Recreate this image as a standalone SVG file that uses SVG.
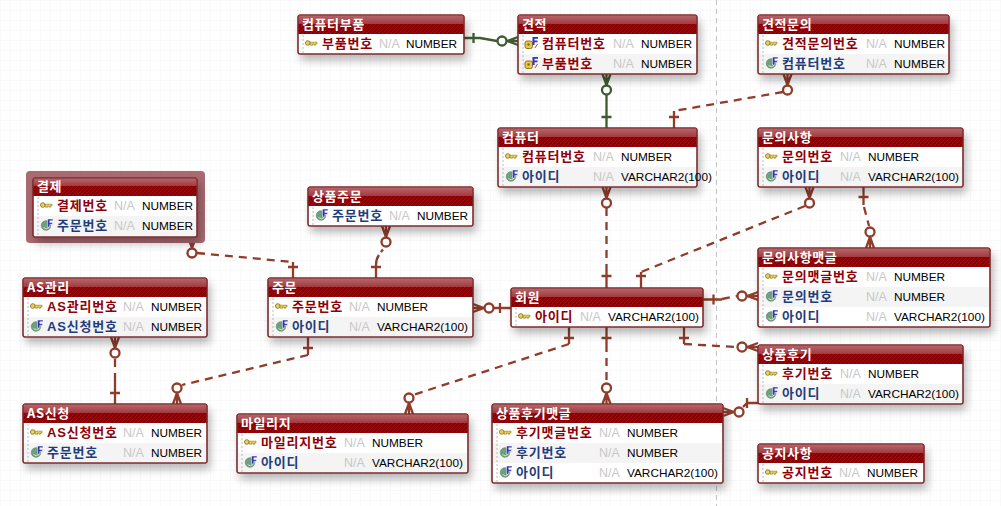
<svg xmlns="http://www.w3.org/2000/svg" width="1001" height="506" viewBox="0 0 1001 506">
<style>
.b{fill:#fff;stroke:#7d2a2c;stroke-width:1}
.h{fill:url(#hatch)}
.g{fill:url(#gloss)}
.a{fill:#f4f4f4}
.d{stroke:#bbb;stroke-width:1;stroke-dasharray:2 2;fill:none}
.o{fill:none;stroke:#7d2a2c;stroke-width:1.2}
text{font-family:"Liberation Sans","Noto Sans CJK KR",sans-serif;font-size:11.8px}
.t{font-family:"Noto Sans CJK KR",sans-serif;font-size:13px;font-weight:700;fill:#fff;letter-spacing:.6px}
.p,.f{font-family:"Liberation Sans","Noto Sans CJK KR",sans-serif;font-size:13px;font-weight:700;letter-spacing:.8px}
.p{fill:#8f0008}
.f{fill:#1f3d7c}
.n{fill:#c8c8c8;font-size:12.5px}
.y{fill:#000}
.r{fill:none;stroke:#8f3c2b;stroke-width:2.3}
.z{stroke-dasharray:8 6}
.v{fill:none;stroke:#3f5a30;stroke-width:2.3}
</style>
<defs>
<pattern id="grid" width="10" height="10" patternUnits="userSpaceOnUse"><path d="M10 0H0V10" fill="none" stroke="#f4f4f4" stroke-width="1"/></pattern>
<pattern id="hatch" width="4" height="4" patternUnits="userSpaceOnUse"><rect width="4" height="4" fill="#8c0004"/><path d="M0 4L4 0" stroke="#980f12" stroke-width="1"/></pattern>
<linearGradient id="gloss" x1="0" y1="0" x2="0" y2="1"><stop offset="0" stop-color="#b7686c"/><stop offset="1" stop-color="#a23a40"/></linearGradient>
<filter id="sh" x="-10%" y="-20%" width="125%" height="160%"><feDropShadow dx="3" dy="6" stdDeviation="4.500" flood-color="#000" flood-opacity=".28"/></filter>
<g id="k"><circle cx="2.800" cy="3" r="2.300" fill="#ecd25a" stroke="#8f7420" stroke-width=".9"/><path d="M5 2.200H12V4H10.500V5.200H9V4H7.500V5.200H5.500Z" fill="#ecd25a" stroke="#8f7420" stroke-width=".6"/></g>
<g id="fk"><circle cx="5" cy="7.500" r="4.800" fill="#6f9f7c" stroke="#5b8a68" stroke-width=".6"/><path d="M2.500 9.500A4 4 0 0 0 8 9.500" fill="none" stroke="#cfe3d4" stroke-width="1"/><path d="M6.500 1H12V2.800H8.800V4.500H11.500V6.300H8.800V9H6.500Z" fill="#3535b5" stroke="#fff" stroke-width=".5"/></g>
<g id="pf"><rect x="0" y="4" width="7.500" height="7.500" rx="2" fill="#e8c84a" stroke="#8a6a1a" stroke-width=".9"/><circle cx="3.500" cy="7.500" r="1.200" fill="#8a6a1a"/><path d="M7.500 0H13V1.800H9.500V3.500H12.500V5.300H9.500V8H7.500Z" fill="#3535b5"/><path d="M12.500 7L10 11" stroke="#8a6a1a"/></g>
<g id="mr"><path d="M0-4L11 0M0 0H11M0 4L11 0" fill="none" stroke="#8f3c2b" stroke-width="2.300"/><circle cx="16" r="4.500" fill="#fff" stroke="#8f3c2b" stroke-width="2.300"/></g>
<g id="mv"><path d="M0-4L11 0M0 0H11M0 4L11 0" fill="none" stroke="#3f5a30" stroke-width="2.300"/><circle cx="16" r="4.500" fill="#fff" stroke="#3f5a30" stroke-width="2.300"/></g>
</defs>
<rect width="1001" height="506" fill="#fff"/>
<rect width="1001" height="506" fill="url(#grid)"/>
<path d="M716.500 0V506" stroke="#c4c4c4" stroke-width="1" stroke-dasharray="5 4" fill="none"/>

<g id="connectors">
<g class="v">
<path d="M464 38H480L497 41M473.500 33V43M606.500 95V128M601.500 117H611.500"/>
<use href="#mv" transform="translate(518 41) rotate(180)"/>
<use href="#mv" transform="translate(606.500 74) rotate(90)"/>
</g>
<g class="r">
<path class="z" d="M783 92L674 111"/>
<path d="M674 111V128M669 117H679"/>
<use href="#mr" transform="translate(787.500 74) rotate(90)"/>

<path class="z" d="M606.500 208V268"/>
<path d="M606.500 268V288M601.500 276H611.500"/>
<use href="#mr" transform="translate(606.500 187) rotate(90)"/>

<path class="z" d="M805 206L641 272"/>
<path d="M641 272V288M636 276H646"/>
<use href="#mr" transform="translate(809.500 187) rotate(90)"/>

<path d="M863.500 187V205M858.500 197H868.500"/>
<path class="z" d="M864 207L869 226"/>
<use href="#mr" transform="translate(870 248) rotate(-90)"/>

<path d="M703 299.500H722M713.500 294.500V304.500"/>
<path class="z" d="M722 299L737 296"/>
<use href="#mr" transform="translate(758 296) rotate(180)"/>

<path d="M684 327V344M679 338H689"/>
<path class="z" d="M684 344L736 347"/>
<use href="#mr" transform="translate(758 347) rotate(180)"/>

<path d="M606.500 327V344M601.500 338H611.500"/>
<path class="z" d="M606.500 344V382"/>
<use href="#mr" transform="translate(606.500 404) rotate(-90)"/>

<path d="M569 327V344M564 338H574"/>
<path class="z" d="M569 344L413 395"/>
<use href="#mr" transform="translate(409 414) rotate(-90)"/>

<path d="M758 403H747L743 407M747 398V408"/>
<use href="#mr" transform="translate(723 412)"/>

<path d="M511 308H493M500 303V313"/>
<use href="#mr" transform="translate(473 308)"/>

<path d="M383 249.500L381 252M379 255Q376 259 376 265V278M371 267H381"/>
<use href="#mr" transform="translate(386 226) rotate(90)"/>

<path class="z" d="M197 253L293 262"/>
<path d="M293 262V278M288 267H298"/>
<use href="#mr" transform="translate(192 237) rotate(90)"/>

<path class="z" d="M115 359V380"/>
<path d="M115 380V404M110 393H120"/>
<use href="#mr" transform="translate(115 337) rotate(90)"/>

<path d="M308 337V355M303 348H313"/>
<path class="z" d="M308 355L182 385"/>
<use href="#mr" transform="translate(177 404) rotate(-90)"/>
</g>
</g>

<g id="t-part"><rect class="b" x="298" y="15" width="166" height="39" rx="2" filter="url(#sh)"/><rect class="h" x="298" y="15" width="166" height="19"/><rect class="g" x="298" y="15" width="166" height="9"/><rect class="o" x="298" y="15" width="166" height="39" rx="2"/><path class="d" d="M303 35V53"/><text class="t" x="302" y="29">컴퓨터부품</text><use href="#k" x="305" y="40"/><text class="p" x="322" y="48">부품번호</text><text class="n" x="379" y="48">N/A</text><text class="y" x="406" y="48">NUMBER</text></g>

<g id="t-quote"><rect class="b" x="518" y="15" width="179" height="59" rx="2" filter="url(#sh)"/><rect class="h" x="518" y="15" width="179" height="19"/><rect class="g" x="518" y="15" width="179" height="9"/><rect class="a" x="519" y="54" width="177" height="19"/><rect class="o" x="518" y="15" width="179" height="59" rx="2"/><path class="d" d="M523 35V73"/><text class="t" x="522" y="29">견적</text><use href="#pf" x="525" y="37"/><text class="p" x="542" y="48">컴퓨터번호</text><text class="n" x="613" y="48">N/A</text><text class="y" x="641" y="48">NUMBER</text><use href="#pf" x="525" y="57"/><text class="p" x="542" y="68">부품번호</text><text class="n" x="613" y="68">N/A</text><text class="y" x="641" y="68">NUMBER</text></g>

<g id="t-quoteq"><rect class="b" x="758" y="15" width="191" height="59" rx="2" filter="url(#sh)"/><rect class="h" x="758" y="15" width="191" height="19"/><rect class="g" x="758" y="15" width="191" height="9"/><rect class="a" x="759" y="54" width="189" height="19"/><rect class="o" x="758" y="15" width="191" height="59" rx="2"/><path class="d" d="M763 35V73"/><text class="t" x="762" y="29">견적문의</text><use href="#k" x="765" y="40"/><text class="p" x="782" y="48">견적문의번호</text><text class="n" x="866" y="48">N/A</text><text class="y" x="894" y="48">NUMBER</text><use href="#fk" x="766" y="56"/><text class="f" x="782" y="68">컴퓨터번호</text><text class="n" x="866" y="68">N/A</text><text class="y" x="894" y="68">NUMBER</text></g>

<g id="t-computer"><rect class="b" x="498" y="128" width="199" height="59" rx="2" filter="url(#sh)"/><rect class="h" x="498" y="128" width="199" height="19"/><rect class="g" x="498" y="128" width="199" height="9"/><rect class="a" x="499" y="167" width="197" height="19"/><rect class="o" x="498" y="128" width="199" height="59" rx="2"/><path class="d" d="M503 148V186"/><text class="t" x="502" y="142">컴퓨터</text><use href="#k" x="505" y="153"/><text class="p" x="522" y="161">컴퓨터번호</text><text class="n" x="593" y="161">N/A</text><text class="y" x="621" y="161">NUMBER</text><use href="#fk" x="506" y="169"/><text class="f" x="522" y="181">아이디</text><text class="n" x="593" y="181">N/A</text><text class="y" x="621" y="181">VARCHAR2(100)</text></g>

<g id="t-inquiry"><rect class="b" x="758" y="128" width="205" height="59" rx="2" filter="url(#sh)"/><rect class="h" x="758" y="128" width="205" height="19"/><rect class="g" x="758" y="128" width="205" height="9"/><rect class="a" x="759" y="167" width="203" height="19"/><rect class="o" x="758" y="128" width="205" height="59" rx="2"/><path class="d" d="M763 148V186"/><text class="t" x="762" y="142">문의사항</text><use href="#k" x="765" y="153"/><text class="p" x="782" y="161">문의번호</text><text class="n" x="840" y="161">N/A</text><text class="y" x="868" y="161">NUMBER</text><use href="#fk" x="766" y="169"/><text class="f" x="782" y="181">아이디</text><text class="n" x="840" y="181">N/A</text><text class="y" x="868" y="181">VARCHAR2(100)</text></g>

<g id="t-pay"><rect x="26" y="171" width="179" height="72" rx="4" fill="#a96a70"/><rect class="b" x="33" y="178" width="164" height="59" rx="2" filter="url(#sh)"/><rect class="h" x="33" y="178" width="164" height="18"/><rect class="g" x="33" y="178" width="164" height="8"/><rect class="a" x="34" y="216" width="162" height="20"/><rect class="o" x="33" y="178" width="164" height="59" rx="2"/><path class="d" d="M38 197V236"/><text class="t" x="37" y="191">결제</text><use href="#k" x="40" y="202"/><text class="p" x="57" y="210">결제번호</text><text class="n" x="114" y="210">N/A</text><text class="y" x="142" y="210">NUMBER</text><use href="#fk" x="41" y="218"/><text class="f" x="57" y="230">주문번호</text><text class="n" x="114" y="230">N/A</text><text class="y" x="142" y="230">NUMBER</text></g>

<g id="t-prodorder"><rect class="b" x="308" y="187" width="165" height="39" rx="2" filter="url(#sh)"/><rect class="h" x="308" y="187" width="165" height="19"/><rect class="g" x="308" y="187" width="165" height="9"/><rect class="o" x="308" y="187" width="165" height="39" rx="2"/><path class="d" d="M313 207V225"/><text class="t" x="312" y="201">상품주문</text><use href="#fk" x="316" y="208"/><text class="f" x="332" y="220">주문번호</text><text class="n" x="389" y="220">N/A</text><text class="y" x="417" y="220">NUMBER</text></g>

<g id="t-asm"><rect class="b" x="23" y="278" width="184" height="59" rx="2" filter="url(#sh)"/><rect class="h" x="23" y="278" width="184" height="19"/><rect class="g" x="23" y="278" width="184" height="9"/><rect class="a" x="24" y="317" width="182" height="19"/><rect class="o" x="23" y="278" width="184" height="59" rx="2"/><path class="d" d="M28 298V336"/><text class="t" x="27" y="292">AS관리</text><use href="#k" x="30" y="303"/><text class="p" x="47" y="311">AS관리번호</text><text class="n" x="123" y="311">N/A</text><text class="y" x="151" y="311">NUMBER</text><use href="#fk" x="31" y="319"/><text class="f" x="47" y="331">AS신청번호</text><text class="n" x="123" y="331">N/A</text><text class="y" x="151" y="331">NUMBER</text></g>

<g id="t-order"><rect class="b" x="268" y="278" width="205" height="59" rx="2" filter="url(#sh)"/><rect class="h" x="268" y="278" width="205" height="19"/><rect class="g" x="268" y="278" width="205" height="9"/><rect class="a" x="269" y="317" width="203" height="19"/><rect class="o" x="268" y="278" width="205" height="59" rx="2"/><path class="d" d="M273 298V336"/><text class="t" x="272" y="292">주문</text><use href="#k" x="275" y="303"/><text class="p" x="292" y="311">주문번호</text><text class="n" x="349" y="311">N/A</text><text class="y" x="377" y="311">NUMBER</text><use href="#fk" x="276" y="319"/><text class="f" x="292" y="331">아이디</text><text class="n" x="349" y="331">N/A</text><text class="y" x="377" y="331">VARCHAR2(100)</text></g>

<g id="t-member"><rect class="b" x="511" y="288" width="192" height="39" rx="2" filter="url(#sh)"/><rect class="h" x="511" y="288" width="192" height="19"/><rect class="g" x="511" y="288" width="192" height="9"/><rect class="o" x="511" y="288" width="192" height="39" rx="2"/><path class="d" d="M516 308V326"/><text class="t" x="515" y="302">회원</text><use href="#k" x="518" y="313"/><text class="p" x="535" y="321">아이디</text><text class="n" x="580" y="321">N/A</text><text class="y" x="608" y="321">VARCHAR2(100)</text></g>

<g id="t-inqreply"><rect class="b" x="758" y="248" width="232" height="79" rx="2" filter="url(#sh)"/><rect class="h" x="758" y="248" width="232" height="19"/><rect class="g" x="758" y="248" width="232" height="9"/><rect class="a" x="759" y="287" width="230" height="20"/><rect class="o" x="758" y="248" width="232" height="79" rx="2"/><path class="d" d="M763 268V326"/><text class="t" x="762" y="262">문의사항맷글</text><use href="#k" x="765" y="273"/><text class="p" x="782" y="281">문의맷글번호</text><text class="n" x="866" y="281">N/A</text><text class="y" x="894" y="281">NUMBER</text><use href="#fk" x="766" y="289"/><text class="f" x="782" y="301">문의번호</text><text class="n" x="866" y="301">N/A</text><text class="y" x="894" y="301">NUMBER</text><use href="#fk" x="766" y="309"/><text class="f" x="782" y="321">아이디</text><text class="n" x="866" y="321">N/A</text><text class="y" x="894" y="321">VARCHAR2(100)</text></g>

<g id="t-review"><rect class="b" x="758" y="345" width="205" height="59" rx="2" filter="url(#sh)"/><rect class="h" x="758" y="345" width="205" height="19"/><rect class="g" x="758" y="345" width="205" height="9"/><rect class="a" x="759" y="384" width="203" height="19"/><rect class="o" x="758" y="345" width="205" height="59" rx="2"/><path class="d" d="M763 365V403"/><text class="t" x="762" y="359">상품후기</text><use href="#k" x="765" y="370"/><text class="p" x="782" y="378">후기번호</text><text class="n" x="840" y="378">N/A</text><text class="y" x="868" y="378">NUMBER</text><use href="#fk" x="766" y="386"/><text class="f" x="782" y="398">아이디</text><text class="n" x="840" y="398">N/A</text><text class="y" x="868" y="398">VARCHAR2(100)</text></g>

<g id="t-asreq"><rect class="b" x="23" y="404" width="184" height="59" rx="2" filter="url(#sh)"/><rect class="h" x="23" y="404" width="184" height="19"/><rect class="g" x="23" y="404" width="184" height="9"/><rect class="a" x="24" y="443" width="182" height="19"/><rect class="o" x="23" y="404" width="184" height="59" rx="2"/><path class="d" d="M28 424V462"/><text class="t" x="27" y="418">AS신청</text><use href="#k" x="30" y="429"/><text class="p" x="47" y="437">AS신청번호</text><text class="n" x="123" y="437">N/A</text><text class="y" x="151" y="437">NUMBER</text><use href="#fk" x="31" y="445"/><text class="f" x="47" y="457">주문번호</text><text class="n" x="123" y="457">N/A</text><text class="y" x="151" y="457">NUMBER</text></g>

<g id="t-mileage"><rect class="b" x="237" y="414" width="231" height="59" rx="2" filter="url(#sh)"/><rect class="h" x="237" y="414" width="231" height="19"/><rect class="g" x="237" y="414" width="231" height="9"/><rect class="a" x="238" y="453" width="229" height="19"/><rect class="o" x="237" y="414" width="231" height="59" rx="2"/><path class="d" d="M242 434V472"/><text class="t" x="241" y="428">마일리지</text><use href="#k" x="244" y="439"/><text class="p" x="261" y="447">마일리지번호</text><text class="n" x="344" y="447">N/A</text><text class="y" x="372" y="447">NUMBER</text><use href="#fk" x="245" y="455"/><text class="f" x="261" y="467">아이디</text><text class="n" x="344" y="467">N/A</text><text class="y" x="372" y="467">VARCHAR2(100)</text></g>

<g id="t-revreply"><rect class="b" x="492" y="404" width="231" height="79" rx="2" filter="url(#sh)"/><rect class="h" x="492" y="404" width="231" height="19"/><rect class="g" x="492" y="404" width="231" height="9"/><rect class="a" x="493" y="443" width="229" height="20"/><rect class="o" x="492" y="404" width="231" height="79" rx="2"/><path class="d" d="M497 424V482"/><text class="t" x="496" y="418">상품후기맷글</text><use href="#k" x="499" y="429"/><text class="p" x="516" y="437">후기맷글번호</text><text class="n" x="599" y="437">N/A</text><text class="y" x="627" y="437">NUMBER</text><use href="#fk" x="500" y="445"/><text class="f" x="516" y="457">후기번호</text><text class="n" x="599" y="457">N/A</text><text class="y" x="627" y="457">NUMBER</text><use href="#fk" x="500" y="465"/><text class="f" x="516" y="477">아이디</text><text class="n" x="599" y="477">N/A</text><text class="y" x="627" y="477">VARCHAR2(100)</text></g>

<g id="t-notice"><rect class="b" x="758" y="444" width="166" height="39" rx="2" filter="url(#sh)"/><rect class="h" x="758" y="444" width="166" height="19"/><rect class="g" x="758" y="444" width="166" height="9"/><rect class="o" x="758" y="444" width="166" height="39" rx="2"/><path class="d" d="M763 464V482"/><text class="t" x="762" y="458">공지사항</text><use href="#k" x="765" y="469"/><text class="p" x="782" y="477">공지번호</text><text class="n" x="839" y="477">N/A</text><text class="y" x="867" y="477">NUMBER</text></g>
</svg>
